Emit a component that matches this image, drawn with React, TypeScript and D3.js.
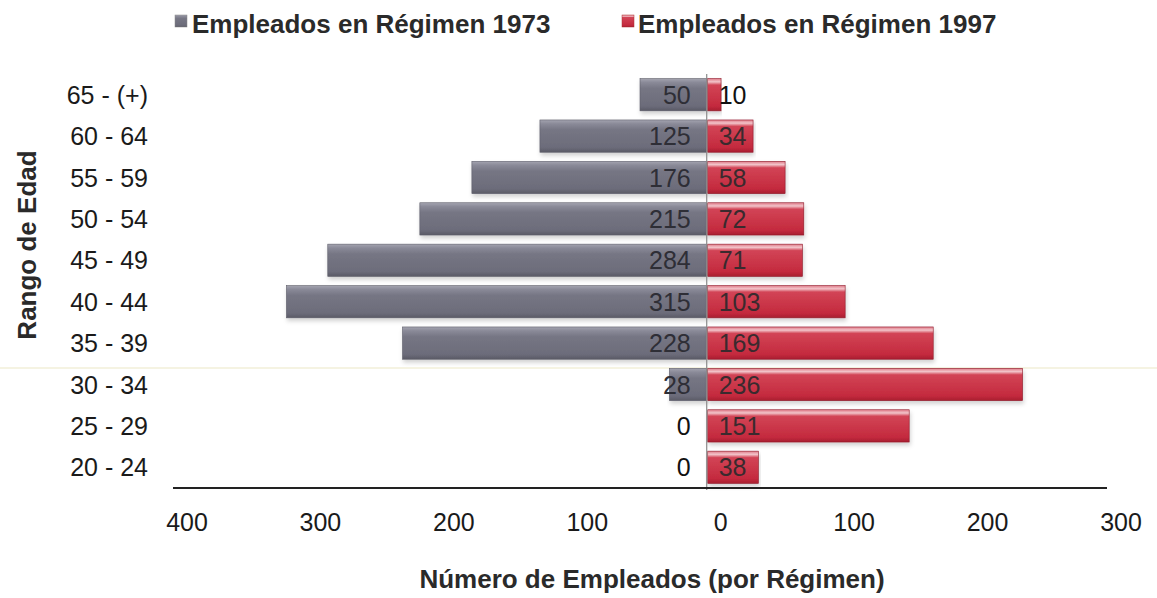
import React from "react";
import * as d3 from "d3";

const categories = ["65 - (+)", "60 - 64", "55 - 59", "50 - 54", "45 - 49", "40 - 44", "35 - 39", "30 - 34", "25 - 29", "20 - 24"];
const regimen1973 = [50, 125, 176, 215, 284, 315, 228, 28, 0, 0];
const regimen1997 = [10, 34, 58, 72, 71, 103, 169, 236, 151, 38];
const xTicks = [-400, -300, -200, -100, 0, 100, 200, 300];
const seriesNames = ["Empleados en Régimen 1973", "Empleados en Régimen 1997"];

const W = 1157;
const H = 598;
const FONT = "'Liberation Sans', Arial, sans-serif";

export default function App() {
  const x = d3.scaleLinear().domain([-400, 300]).range([173, 1107]);
  const y = d3.scaleBand().domain(categories).range([74, 488]).paddingInner(0.22).paddingOuter(0.11);
  const bh = y.bandwidth();
  const x0 = x(0);

  return (
    <svg width={W} height={H} style={{ position: "absolute", left: 0, top: 0, background: "#fff" }} fontFamily={FONT}>
      <defs>
        <linearGradient id="gGray" x1="0" y1="0" x2="0" y2="1">
          <stop offset="0" stopColor="#a4a4b0" />
          <stop offset="0.12" stopColor="#8a8a98" />
          <stop offset="0.3" stopColor="#767684" />
          <stop offset="0.85" stopColor="#6c6c7a" />
          <stop offset="1" stopColor="#5a5a66" />
        </linearGradient>
        <linearGradient id="gRed" x1="0" y1="0" x2="0" y2="1">
          <stop offset="0" stopColor="#e07a88" />
          <stop offset="0.1" stopColor="#f2c4ca" />
          <stop offset="0.2" stopColor="#d24456" />
          <stop offset="0.85" stopColor="#c42a3e" />
          <stop offset="1" stopColor="#a81e30" />
        </linearGradient>
        <filter id="shadow" x="-5%" y="-20%" width="110%" height="160%">
          <feDropShadow dx="1" dy="3" stdDeviation="2" floodColor="#000" floodOpacity="0.18" />
        </filter>
      </defs>

      {/* legend */}
      <rect x={175} y={15} width={12} height={12} fill="url(#gGray)" stroke="#888" strokeWidth={0.5} />
      <text x={192} y={33} fontSize={26} fontWeight="bold" fill="#2a2a2a">{seriesNames[0]}</text>
      <rect x={622} y={15} width={12} height={12} fill="url(#gRed)" stroke="#a33" strokeWidth={0.5} />
      <text x={638} y={33} fontSize={26} fontWeight="bold" fill="#2a2a2a">{seriesNames[1]}</text>

      {/* faint scan line */}
      <line x1={0} x2={W} y1={368} y2={368} stroke="#f2efd9" strokeWidth={1.5} />

      {/* bars */}
      {categories.map((c, i) => {
        const yy = y(c) as number;
        const gv = regimen1973[i];
        const rv = regimen1997[i];
        return (
          <g key={c}>
            {gv > 0 && (
              <rect x={x(-gv)} y={yy} width={x0 - x(-gv)} height={bh} fill="url(#gGray)" stroke="#5e5e6a" strokeWidth={0.6} filter="url(#shadow)" />
            )}
            {rv > 0 && (
              <rect x={x0 + 1} y={yy} width={x(rv) - x0} height={bh} fill="url(#gRed)" stroke="#8e1a2a" strokeWidth={0.6} filter="url(#shadow)" />
            )}
          </g>
        );
      })}

      {/* zero line */}
      <line x1={x0} x2={x0} y1={74} y2={490} stroke="#8a8a8a" strokeWidth={1.2} />

      {/* value labels */}
      {categories.map((c, i) => {
        const yy = (y(c) as number) + bh / 2 + 9;
        return (
          <g key={"l" + c} fontSize={25}>
            <text x={x0 - 16} y={yy} textAnchor="end" fill={regimen1973[i] > 0 ? "#2e2e36" : "#111"}>{regimen1973[i]}</text>
            <text x={x0 + 12} y={yy} textAnchor="start" fill={regimen1997[i] > 15 ? "#3a2a2e" : "#111"}>{regimen1997[i]}</text>
          </g>
        );
      })}

      {/* x axis line */}
      <line x1={x(-400)} x2={x(300)} y1={488} y2={488} stroke="#222" strokeWidth={2} />
      {xTicks.map((t) => (
        <text key={t} x={x(t) + 14} y={531} textAnchor="middle" fontSize={25} fill="#1a1a1a">{Math.abs(t)}</text>
      ))}

      {/* y labels */}
      {categories.map((c) => (
        <text key={"y" + c} x={148} y={(y(c) as number) + bh / 2 + 9} textAnchor="end" fontSize={25} fill="#1a1a1a">{c}</text>
      ))}

      {/* axis titles */}
      <text x={652} y={588} textAnchor="middle" fontSize={26} fontWeight="bold" fill="#2a2a2a">Número de Empleados (por Régimen)</text>
      <text transform={`translate(36,${245}) rotate(-90)`} textAnchor="middle" fontSize={26} fontWeight="bold" fill="#2a2a2a">Rango de Edad</text>
    </svg>
  );
}
